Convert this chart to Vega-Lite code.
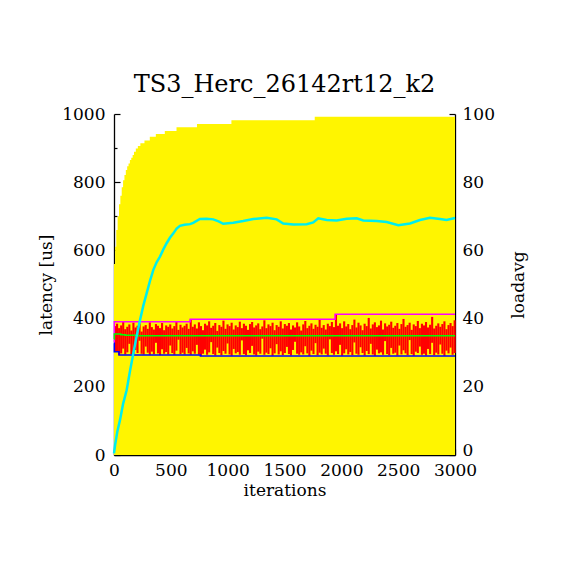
{
  "$schema": "https://vega.github.io/schema/vega-lite/v6.json",
  "width": 341,
  "height": 341,
  "autosize": {"type": "none"},
  "padding": {"left": 114, "top": 114, "right": 115, "bottom": 115},
  "background": "white",
  "title": {
    "text": "TS3_Herc_26142rt12_k2",
    "font": "DejaVu Serif",
    "fontSize": 24,
    "fontWeight": "normal",
    "color": "black",
    "anchor": "middle",
    "baseline": "alphabetic",
    "offset": -11
  },
  "config": {
    "view": {"stroke": null},
    "axis": {
      "labelFont": "DejaVu Serif",
      "labelFontSize": 17,
      "labelColor": "black",
      "labelFlush": false,
      "labelOverlap": false,
      "titleFont": "DejaVu Serif",
      "titleFontSize": 17,
      "titleFontWeight": "normal",
      "titleColor": "black",
      "domain": true,
      "domainColor": "black",
      "domainWidth": 1.3,
      "tickColor": "black",
      "tickWidth": 1.2,
      "grid": false,
      "zindex": 1
    }
  },
  "datasets": {
    "maxlat": [
      {"x": 0, "v": 560}, {"x": 10, "v": 611}, {"x": 20, "v": 660}, {"x": 32, "v": 700},
      {"x": 44, "v": 735}, {"x": 56, "v": 760}, {"x": 68, "v": 785}, {"x": 80, "v": 806},
      {"x": 92, "v": 821}, {"x": 104, "v": 836}, {"x": 116, "v": 847}, {"x": 128, "v": 855},
      {"x": 140, "v": 865}, {"x": 152, "v": 872}, {"x": 164, "v": 880}, {"x": 176, "v": 889},
      {"x": 192, "v": 899}, {"x": 210, "v": 906}, {"x": 232, "v": 914}, {"x": 268, "v": 922},
      {"x": 315, "v": 933}, {"x": 368, "v": 941}, {"x": 447, "v": 950}, {"x": 550, "v": 961},
      {"x": 730, "v": 971}, {"x": 1033, "v": 982}, {"x": 1766, "v": 992}, {"x": 3000, "v": 992}
    ],
    "noise": [
      {"x": 9, "lo": 305, "hi": 378}, {"x": 27, "lo": 303, "hi": 385}, {"x": 45, "lo": 293, "hi": 372},
      {"x": 63, "lo": 298, "hi": 380}, {"x": 81, "lo": 312, "hi": 391}, {"x": 99, "lo": 295, "hi": 369},
      {"x": 117, "lo": 301, "hi": 376}, {"x": 135, "lo": 326, "hi": 383}, {"x": 153, "lo": 296, "hi": 365},
      {"x": 171, "lo": 294, "hi": 388}, {"x": 189, "lo": 308, "hi": 374}, {"x": 207, "lo": 299, "hi": 379},
      {"x": 225, "lo": 335, "hi": 386}, {"x": 243, "lo": 297, "hi": 362}, {"x": 261, "lo": 295, "hi": 377},
      {"x": 279, "lo": 318, "hi": 381}, {"x": 297, "lo": 300, "hi": 370}, {"x": 315, "lo": 294, "hi": 389},
      {"x": 333, "lo": 303, "hi": 375}, {"x": 351, "lo": 296, "hi": 368}, {"x": 369, "lo": 329, "hi": 384},
      {"x": 387, "lo": 298, "hi": 379}, {"x": 405, "lo": 293, "hi": 372}, {"x": 423, "lo": 310, "hi": 387},
      {"x": 441, "lo": 297, "hi": 366}, {"x": 459, "lo": 302, "hi": 380}, {"x": 477, "lo": 295, "hi": 376},
      {"x": 495, "lo": 321, "hi": 383}, {"x": 513, "lo": 299, "hi": 371}, {"x": 531, "lo": 294, "hi": 378},
      {"x": 549, "lo": 306, "hi": 390}, {"x": 567, "lo": 338, "hi": 367}, {"x": 585, "lo": 296, "hi": 382},
      {"x": 603, "lo": 300, "hi": 374}, {"x": 621, "lo": 295, "hi": 379}, {"x": 639, "lo": 314, "hi": 385},
      {"x": 657, "lo": 298, "hi": 370}, {"x": 675, "lo": 294, "hi": 398}, {"x": 693, "lo": 304, "hi": 376},
      {"x": 711, "lo": 297, "hi": 383}, {"x": 729, "lo": 323, "hi": 371}, {"x": 747, "lo": 295, "hi": 389},
      {"x": 765, "lo": 290, "hi": 378}, {"x": 783, "lo": 297, "hi": 366}, {"x": 801, "lo": 309, "hi": 385},
      {"x": 819, "lo": 294, "hi": 380}, {"x": 837, "lo": 301, "hi": 392}, {"x": 855, "lo": 331, "hi": 373},
      {"x": 873, "lo": 296, "hi": 379}, {"x": 891, "lo": 292, "hi": 387}, {"x": 909, "lo": 315, "hi": 364},
      {"x": 927, "lo": 299, "hi": 381}, {"x": 945, "lo": 293, "hi": 376}, {"x": 963, "lo": 305, "hi": 394},
      {"x": 981, "lo": 297, "hi": 370}, {"x": 999, "lo": 327, "hi": 383}, {"x": 1017, "lo": 295, "hi": 378},
      {"x": 1035, "lo": 291, "hi": 388}, {"x": 1053, "lo": 311, "hi": 368}, {"x": 1071, "lo": 298, "hi": 380},
      {"x": 1089, "lo": 302, "hi": 375}, {"x": 1107, "lo": 294, "hi": 391}, {"x": 1125, "lo": 336, "hi": 372},
      {"x": 1143, "lo": 296, "hi": 385}, {"x": 1161, "lo": 293, "hi": 379}, {"x": 1179, "lo": 307, "hi": 367},
      {"x": 1197, "lo": 299, "hi": 384}, {"x": 1215, "lo": 320, "hi": 390}, {"x": 1233, "lo": 295, "hi": 374},
      {"x": 1251, "lo": 292, "hi": 380}, {"x": 1269, "lo": 303, "hi": 386}, {"x": 1287, "lo": 297, "hi": 369},
      {"x": 1305, "lo": 341, "hi": 377}, {"x": 1323, "lo": 294, "hi": 395}, {"x": 1341, "lo": 300, "hi": 372},
      {"x": 1359, "lo": 296, "hi": 383}, {"x": 1377, "lo": 313, "hi": 378}, {"x": 1395, "lo": 291, "hi": 388},
      {"x": 1413, "lo": 298, "hi": 366}, {"x": 1431, "lo": 325, "hi": 381}, {"x": 1449, "lo": 295, "hi": 376},
      {"x": 1467, "lo": 304, "hi": 392}, {"x": 1485, "lo": 293, "hi": 371}, {"x": 1503, "lo": 299, "hi": 384},
      {"x": 1521, "lo": 317, "hi": 379}, {"x": 1539, "lo": 296, "hi": 387}, {"x": 1557, "lo": 292, "hi": 368},
      {"x": 1575, "lo": 308, "hi": 380}, {"x": 1593, "lo": 332, "hi": 374}, {"x": 1611, "lo": 297, "hi": 389},
      {"x": 1629, "lo": 294, "hi": 377}, {"x": 1647, "lo": 301, "hi": 365}, {"x": 1665, "lo": 295, "hi": 383},
      {"x": 1683, "lo": 319, "hi": 393}, {"x": 1701, "lo": 298, "hi": 372}, {"x": 1719, "lo": 291, "hi": 379},
      {"x": 1737, "lo": 306, "hi": 386}, {"x": 1755, "lo": 296, "hi": 370}, {"x": 1773, "lo": 328, "hi": 382},
      {"x": 1791, "lo": 293, "hi": 376}, {"x": 1809, "lo": 300, "hi": 396}, {"x": 1827, "lo": 295, "hi": 373},
      {"x": 1845, "lo": 312, "hi": 381}, {"x": 1863, "lo": 297, "hi": 368}, {"x": 1881, "lo": 292, "hi": 385},
      {"x": 1899, "lo": 339, "hi": 378}, {"x": 1917, "lo": 299, "hi": 390}, {"x": 1935, "lo": 294, "hi": 375},
      {"x": 1953, "lo": 304, "hi": 413}, {"x": 1971, "lo": 296, "hi": 379}, {"x": 1989, "lo": 323, "hi": 386},
      {"x": 2007, "lo": 291, "hi": 372}, {"x": 2025, "lo": 298, "hi": 392}, {"x": 2043, "lo": 310, "hi": 377},
      {"x": 2061, "lo": 295, "hi": 384}, {"x": 2079, "lo": 302, "hi": 369}, {"x": 2097, "lo": 293, "hi": 381},
      {"x": 2115, "lo": 330, "hi": 397}, {"x": 2133, "lo": 297, "hi": 374}, {"x": 2151, "lo": 294, "hi": 388},
      {"x": 2169, "lo": 316, "hi": 380}, {"x": 2187, "lo": 299, "hi": 366}, {"x": 2205, "lo": 292, "hi": 385},
      {"x": 2223, "lo": 305, "hi": 378}, {"x": 2241, "lo": 296, "hi": 402}, {"x": 2259, "lo": 326, "hi": 371},
      {"x": 2277, "lo": 295, "hi": 383}, {"x": 2295, "lo": 291, "hi": 389}, {"x": 2313, "lo": 309, "hi": 375},
      {"x": 2331, "lo": 298, "hi": 380}, {"x": 2349, "lo": 301, "hi": 394}, {"x": 2367, "lo": 294, "hi": 368},
      {"x": 2385, "lo": 334, "hi": 386}, {"x": 2403, "lo": 296, "hi": 377}, {"x": 2421, "lo": 293, "hi": 382},
      {"x": 2439, "lo": 314, "hi": 391}, {"x": 2457, "lo": 297, "hi": 373}, {"x": 2475, "lo": 300, "hi": 379},
      {"x": 2493, "lo": 292, "hi": 387}, {"x": 2511, "lo": 321, "hi": 370}, {"x": 2529, "lo": 295, "hi": 384},
      {"x": 2547, "lo": 307, "hi": 399}, {"x": 2565, "lo": 298, "hi": 376}, {"x": 2583, "lo": 293, "hi": 381},
      {"x": 2601, "lo": 337, "hi": 388}, {"x": 2619, "lo": 296, "hi": 367}, {"x": 2637, "lo": 291, "hi": 383},
      {"x": 2655, "lo": 303, "hi": 378}, {"x": 2673, "lo": 299, "hi": 393}, {"x": 2691, "lo": 318, "hi": 372},
      {"x": 2709, "lo": 294, "hi": 385}, {"x": 2727, "lo": 297, "hi": 380}, {"x": 2745, "lo": 292, "hi": 390},
      {"x": 2763, "lo": 311, "hi": 374}, {"x": 2781, "lo": 296, "hi": 382}, {"x": 2799, "lo": 329, "hi": 405},
      {"x": 2817, "lo": 293, "hi": 371}, {"x": 2835, "lo": 300, "hi": 379}, {"x": 2853, "lo": 295, "hi": 386},
      {"x": 2871, "lo": 324, "hi": 376}, {"x": 2889, "lo": 297, "hi": 384}, {"x": 2907, "lo": 291, "hi": 392},
      {"x": 2925, "lo": 306, "hi": 369}, {"x": 2943, "lo": 298, "hi": 381}, {"x": 2961, "lo": 315, "hi": 387},
      {"x": 2979, "lo": 294, "hi": 378}, {"x": 2997, "lo": 299, "hi": 395}
    ],
    "stats": [
      {"s": "max", "x": 0, "v": 330}, {"s": "max", "x": 3, "v": 391}, {"s": "max", "x": 670, "v": 398},
      {"s": "max", "x": 1945, "v": 413}, {"s": "max", "x": 3000, "v": 413},
      {"s": "mean", "x": 0, "v": 340}, {"s": "mean", "x": 3, "v": 355}, {"s": "mean", "x": 60, "v": 353},
      {"s": "mean", "x": 100, "v": 351}, {"s": "mean", "x": 200, "v": 350}, {"s": "mean", "x": 3000, "v": 350},
      {"s": "min", "x": 0, "v": 328}, {"s": "min", "x": 3, "v": 303}, {"s": "min", "x": 44, "v": 293},
      {"s": "min", "x": 760, "v": 290}, {"s": "min", "x": 3000, "v": 290}
    ],
    "load": [
      {"x": 0, "v": 0.5}, {"x": 10, "v": 3}, {"x": 30, "v": 7}, {"x": 53, "v": 10.3}, {"x": 80, "v": 15},
      {"x": 111, "v": 19}, {"x": 140, "v": 24.5}, {"x": 170, "v": 29.8}, {"x": 200, "v": 35},
      {"x": 229, "v": 39.6}, {"x": 258, "v": 43.8}, {"x": 287, "v": 47.4}, {"x": 316, "v": 51},
      {"x": 346, "v": 54.3}, {"x": 375, "v": 56.5}, {"x": 405, "v": 58.2}, {"x": 434, "v": 60.3},
      {"x": 463, "v": 62.1}, {"x": 492, "v": 63.7}, {"x": 522, "v": 65}, {"x": 551, "v": 66.4},
      {"x": 580, "v": 67.2}, {"x": 620, "v": 67.5}, {"x": 669, "v": 67.7}, {"x": 697, "v": 68.1},
      {"x": 756, "v": 69.2}, {"x": 815, "v": 69.3}, {"x": 873, "v": 69.1}, {"x": 920, "v": 68.5},
      {"x": 961, "v": 67.8}, {"x": 1049, "v": 68.1}, {"x": 1137, "v": 68.6}, {"x": 1225, "v": 69.2},
      {"x": 1343, "v": 69.6}, {"x": 1431, "v": 69.1}, {"x": 1489, "v": 67.9}, {"x": 1577, "v": 67.6},
      {"x": 1695, "v": 67.7}, {"x": 1753, "v": 68.2}, {"x": 1797, "v": 69.4}, {"x": 1871, "v": 68.9},
      {"x": 1959, "v": 68.8}, {"x": 2047, "v": 69.3}, {"x": 2135, "v": 69.4}, {"x": 2193, "v": 68.8},
      {"x": 2311, "v": 68.6}, {"x": 2399, "v": 68.3}, {"x": 2501, "v": 67.4}, {"x": 2604, "v": 67.9},
      {"x": 2692, "v": 68.9}, {"x": 2780, "v": 69.6}, {"x": 2868, "v": 69.2}, {"x": 2926, "v": 68.9},
      {"x": 3000, "v": 69.5}
    ]
  },
  "encoding": {
    "x": {
      "field": "x",
      "type": "quantitative",
      "scale": {"domain": [0, 3000], "nice": false},
      "axis": {
        "orient": "bottom",
        "values": [0, 500, 1000, 1500, 2000, 2500, 3000],
        "format": "d",
        "tickSize": -6,
        "labelPadding": 13,
        "title": "iterations",
        "titlePadding": 4
      }
    }
  },
  "resolve": {"scale": {"y": "independent"}},
  "layer": [
    {
      "data": {"name": "maxlat"},
      "mark": {"type": "area", "interpolate": "step-after", "color": "#fff500"},
      "encoding": {
        "y": {
          "field": "v",
          "type": "quantitative",
          "scale": {"domain": [0, 1000], "nice": false},
          "axis": {
            "orient": "left",
            "values": [0, 200, 400, 600, 800, 1000],
            "format": "d",
            "tickSize": -6,
            "labelPadding": 15,
            "title": "latency [us]",
            "titlePadding": 6
          }
        }
      }
    },
    {
      "data": {"name": "noise"},
      "mark": {"type": "rule", "color": "#ff0000", "strokeWidth": 2.1},
      "encoding": {
        "y": {
          "field": "lo",
          "type": "quantitative",
          "scale": {"domain": [0, 1000], "nice": false},
          "axis": {
            "orient": "left",
            "values": [100, 300, 500, 700, 900],
            "tickSize": -3,
            "labels": false,
            "domain": false,
            "title": null
          }
        },
        "y2": {"field": "hi"}
      }
    },
    {
      "data": {"name": "stats"},
      "mark": {"type": "line", "interpolate": "step-after", "strokeWidth": 1.5},
      "encoding": {
        "y": {"field": "v", "type": "quantitative", "scale": {"domain": [0, 1000], "nice": false}, "axis": null},
        "color": {
          "field": "s",
          "type": "nominal",
          "scale": {"domain": ["max", "mean", "min"], "range": ["#ff00ff", "#00ff00", "#0000ff"]},
          "legend": null
        }
      }
    },
    {
      "data": {"name": "load"},
      "mark": {"type": "line", "color": "#00eeee", "strokeWidth": 2.5},
      "encoding": {
        "y": {
          "field": "v",
          "type": "quantitative",
          "scale": {"domain": [0, 100], "nice": false},
          "axis": {
            "orient": "right",
            "values": [0, 20, 40, 60, 80, 100],
            "tickSize": -6,
            "labelPadding": 13,
            "labelOffset": {"condition": {"test": "datum.value === 0", "value": -5}, "value": 0},
            "title": "loadavg",
            "titleAngle": 270,
            "titlePadding": 33
          }
        }
      }
    },
    {
      "data": {"name": "load"},
      "mark": {"type": "line", "opacity": 0},
      "encoding": {
        "y": {
          "field": "v",
          "type": "quantitative",
          "scale": {"domain": [0, 100], "nice": false},
          "axis": {
            "orient": "right",
            "values": [10, 30, 50, 70, 90],
            "tickSize": -3,
            "labels": false,
            "domain": false,
            "title": null
          }
        }
      }
    }
  ]
}
